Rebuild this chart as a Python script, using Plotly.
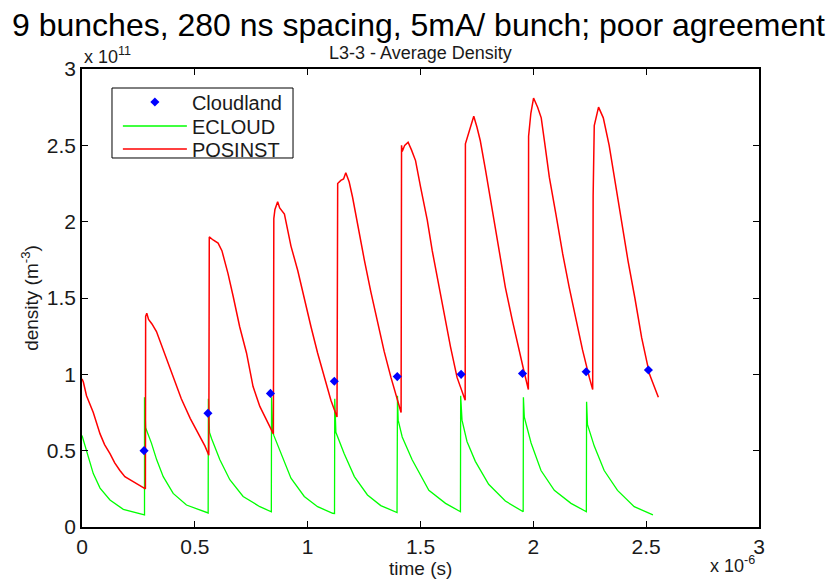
import plotly.graph_objects as go

# ---------------- data (time in 1e-6 s, density in 1e11 m^-3) ----------------
cloudland_t = [0.275, 0.558, 0.835, 1.118, 1.397, 1.680, 1.952, 2.234, 2.510]
cloudland_v = [0.50, 0.745, 0.875, 0.955, 0.985, 1.00, 1.005, 1.017, 1.028]

ecloud_t = [
    0.000, 0.006, 0.028, 0.050, 0.080, 0.124, 0.183, 0.242, 0.277,
    0.277, 0.282, 0.308, 0.331, 0.360, 0.404, 0.463, 0.522, 0.559,
    0.560, 0.565, 0.574, 0.611, 0.655, 0.714, 0.788, 0.839,
    0.840, 0.845, 0.850, 0.882, 0.926, 0.985, 1.044, 1.111, 1.119,
    1.120, 1.125, 1.162, 1.207, 1.265, 1.324, 1.396,
    1.398, 1.401, 1.419, 1.463, 1.537, 1.611, 1.677,
    1.678, 1.684, 1.706, 1.743, 1.802, 1.876, 1.955,
    1.956, 1.960, 1.990, 2.034, 2.093, 2.167, 2.235,
    2.236, 2.240, 2.270, 2.314, 2.373, 2.447, 2.530,
]
ecloud_v = [
    0.60, 0.57, 0.46, 0.35, 0.255, 0.177, 0.116, 0.094, 0.08,
    0.85, 0.65, 0.548, 0.44, 0.33, 0.22, 0.144, 0.111, 0.092,
    0.84, 0.62, 0.58, 0.44, 0.31, 0.20, 0.133, 0.10,
    0.85, 0.63, 0.60, 0.48, 0.32, 0.20, 0.133, 0.09, 0.088,
    0.84, 0.62, 0.48, 0.33, 0.21, 0.14, 0.095,
    0.86, 0.70, 0.59, 0.44, 0.24, 0.155, 0.10,
    0.86, 0.70, 0.56, 0.43, 0.28, 0.17, 0.10,
    0.85, 0.72, 0.55, 0.37, 0.24, 0.155, 0.10,
    0.82, 0.67, 0.53, 0.37, 0.24, 0.133, 0.08,
]

posinst_t = [
    0.000, 0.006, 0.020, 0.035, 0.050, 0.080, 0.100, 0.124, 0.145, 0.168, 0.190, 0.212, 0.250, 0.281,
    0.282, 0.287, 0.295, 0.310, 0.330, 0.360, 0.400, 0.440, 0.480, 0.520, 0.545, 0.562,
    0.564, 0.581, 0.603, 0.620, 0.647, 0.670, 0.699, 0.729, 0.758, 0.788, 0.823, 0.848,
    0.850, 0.855, 0.867, 0.876, 0.897, 0.926, 0.956, 0.985, 1.015, 1.044, 1.074, 1.103, 1.130,
    1.133, 1.147, 1.159, 1.169, 1.184, 1.199, 1.221, 1.251, 1.280, 1.310, 1.339, 1.369, 1.398, 1.414,
    1.416, 1.419, 1.430, 1.445, 1.460, 1.478, 1.500, 1.530, 1.552, 1.574, 1.603, 1.633, 1.662, 1.692, 1.698,
    1.699, 1.714, 1.736, 1.750, 1.765, 1.788, 1.817, 1.847, 1.876, 1.906, 1.935, 1.957, 1.978,
    1.979, 1.989, 2.001, 2.019, 2.035, 2.050, 2.071, 2.100, 2.130, 2.159, 2.189, 2.218, 2.248, 2.263,
    2.265, 2.270, 2.289, 2.310, 2.336, 2.360, 2.390, 2.420, 2.450, 2.480, 2.515, 2.535, 2.554,
]
posinst_v = [
    0.97, 0.95, 0.86, 0.80, 0.75, 0.61, 0.54, 0.48, 0.42, 0.37, 0.33, 0.31, 0.28, 0.25,
    1.38, 1.40, 1.36, 1.33, 1.28, 1.16, 1.00, 0.84, 0.71, 0.60, 0.53, 0.47,
    1.90, 1.88, 1.86, 1.81, 1.66, 1.51, 1.31, 1.14, 0.92, 0.79, 0.68, 0.61,
    2.02, 2.08, 2.13, 2.09, 2.05, 1.84, 1.68, 1.49, 1.31, 1.14, 0.98, 0.83, 0.72,
    2.25, 2.27, 2.28, 2.32, 2.26, 2.16, 1.98, 1.75, 1.54, 1.33, 1.15, 0.98, 0.83, 0.75,
    2.50, 2.46, 2.50, 2.52, 2.47, 2.40, 2.23, 2.01, 1.81, 1.64, 1.40, 1.18, 0.98, 0.85, 0.83,
    2.51, 2.59, 2.69, 2.62, 2.53, 2.34, 2.08, 1.81, 1.57, 1.36, 1.16, 1.03, 0.90,
    2.56, 2.71, 2.81, 2.75, 2.68, 2.52, 2.29, 2.05, 1.79, 1.57, 1.36, 1.16, 0.98, 0.90,
    2.17, 2.63, 2.75, 2.68, 2.50, 2.28, 2.00, 1.74, 1.50, 1.24, 1.00, 0.92, 0.85,
]

tick_vals = [0, 0.5, 1, 1.5, 2, 2.5, 3]

FONT = "Liberation Sans, Arial, sans-serif"
TXT = "#1a1a1a"

fig = go.Figure()
fig.add_trace(go.Scatter(x=ecloud_t, y=ecloud_v, mode="lines", name="ECLOUD",
                         line=dict(color="#00ff00", width=1.3), legend="legend2"))
fig.add_trace(go.Scatter(x=posinst_t, y=posinst_v, mode="lines", name="POSINST",
                         line=dict(color="#ff0000", width=1.5), legend="legend3"))
fig.add_trace(go.Scatter(x=cloudland_t, y=cloudland_v, mode="markers", name="Cloudland",
                         marker=dict(color="#0000ff", size=7, symbol="diamond"), legend="legend"))

axis_common = dict(range=[0, 3], tickvals=tick_vals, ticks="inside", ticklen=6,
                   tickcolor="#000", tickwidth=1, showline=True, linecolor="#000",
                   linewidth=1.5, mirror="ticks", showgrid=False, zeroline=False,
                   tickfont=dict(family=FONT, size=21, color=TXT))
fig.update_xaxes(**axis_common)
fig.update_yaxes(**axis_common)

leg_common = dict(x=0.053, xanchor="left", yanchor="middle", borderwidth=0,
                  bgcolor="rgba(0,0,0,0)", font=dict(family=FONT, size=20, color=TXT),
                  itemwidth=64)

fig.update_layout(
    width=834, height=579,
    margin=dict(l=82, r=75, t=69, b=52),
    paper_bgcolor="white", plot_bgcolor="white",
    font=dict(family=FONT, color=TXT),
    showlegend=True,
    legend=dict(y=0.928, **leg_common),
    legend2=dict(y=0.8755, **leg_common),
    legend3=dict(y=0.8253, **leg_common),
    shapes=[dict(type="rect", xref="paper", yref="paper",
                 x0=0.0443, x1=0.3117, y0=0.8057, y1=0.9585,
                 line=dict(color="#000", width=1), fillcolor="white", layer="above")],
    annotations=[
        dict(text="9 bunches, 280 ns spacing, 5mA/ bunch; poor agreement",
             x=0.497, y=1.097, xref="paper", yref="paper", xanchor="center", yanchor="middle",
             showarrow=False, font=dict(family=FONT, size=32, color="#000")),
        dict(text="L3-3 - Average Density",
             x=0.5, y=1.035, xref="paper", yref="paper", xanchor="center", yanchor="middle",
             showarrow=False, font=dict(family=FONT, size=18, color=TXT)),
        dict(text="x 10<sup>11</sup>",
             x=0.0, y=1.03, xref="paper", yref="paper", xanchor="left", yanchor="middle",
             showarrow=False, font=dict(family=FONT, size=18, color=TXT)),
        dict(text="time (s)",
             x=0.5, y=-0.091, xref="paper", yref="paper", xanchor="center", yanchor="middle",
             showarrow=False, font=dict(family=FONT, size=19, color=TXT)),
        dict(text="x 10<sup>-6</sup>",
             x=0.997, y=-0.1115, xref="paper", yref="paper", xanchor="right", yanchor="bottom",
             showarrow=False, font=dict(family=FONT, size=18, color=TXT)),
        dict(text="density (m<sup>-3</sup>)",
             x=-0.077, y=0.5, xref="paper", yref="paper", xanchor="center", yanchor="middle",
             textangle=-90, showarrow=False, font=dict(family=FONT, size=19, color=TXT)),
    ],
)

fig.write_html("out.html")
